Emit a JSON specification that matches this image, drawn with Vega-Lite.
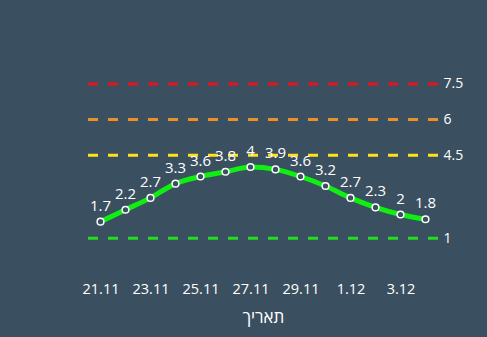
{
  "$schema": "https://vega.github.io/schema/vega-lite/v6.json",
  "autosize": "none",
  "width": 350,
  "height": 190,
  "padding": {"left": 88, "top": 72, "right": 49, "bottom": 75},
  "background": "#3a4f60",
  "config": {
    "view": {"stroke": null},
    "font": "Open Sans",
    "axis": {"grid": false, "domain": false, "ticks": false}
  },
  "datasets": {
    "main": [
      {"date": "21.11", "value": 1.7},
      {"date": "22.11", "value": 2.2},
      {"date": "23.11", "value": 2.7},
      {"date": "24.11", "value": 3.3},
      {"date": "25.11", "value": 3.6},
      {"date": "26.11", "value": 3.8},
      {"date": "27.11", "value": 4},
      {"date": "28.11", "value": 3.9},
      {"date": "29.11", "value": 3.6},
      {"date": "30.11", "value": 3.2},
      {"date": "1.12", "value": 2.7},
      {"date": "2.12", "value": 2.3},
      {"date": "3.12", "value": 2},
      {"date": "4.12", "value": 1.8}
    ],
    "thresholds": [
      {"level": 1, "color": "#22dd22"},
      {"level": 4.5, "color": "#ffe21a"},
      {"level": 6, "color": "#eb9128"},
      {"level": 7.5, "color": "#e3141c"}
    ]
  },
  "layer": [
    {
      "data": {"name": "thresholds"},
      "mark": {"type": "rule", "strokeWidth": 3, "strokeDash": [10, 10]},
      "encoding": {
        "y": {
          "field": "level",
          "type": "quantitative",
          "scale": {"domain": [0, 8]},
          "axis": {
            "orient": "right",
            "values": [1, 4.5, 6, 7.5],
            "format": ".2~f",
            "title": null,
            "labelColor": "#ffffff",
            "labelFontSize": 14,
            "labelFontWeight": 500,
            "labelPadding": 5
          }
        },
        "color": {"field": "color", "type": "nominal", "scale": null}
      }
    },
    {
      "data": {"name": "main"},
      "encoding": {
        "x": {
          "field": "date",
          "type": "ordinal",
          "sort": null,
          "scale": {"type": "point", "padding": 0.5},
          "axis": {
            "values": ["21.11", "23.11", "25.11", "27.11", "29.11", "1.12", "3.12"],
            "labelAngle": 0,
            "labelColor": "#ffffff",
            "labelFontSize": 14.5,
            "labelFontWeight": 500,
            "labelPadding": 20,
            "title": "תאריך",
            "titleColor": "#ffffff",
            "titleFontSize": 17,
            "titleFontWeight": "normal",
            "titlePadding": 14
          }
        },
        "y": {
          "field": "value",
          "type": "quantitative",
          "scale": {"domain": [0, 8]},
          "axis": {
            "orient": "right",
            "values": [1, 4.5, 6, 7.5],
            "format": ".2~f",
            "title": null,
            "labelColor": "#ffffff",
            "labelFontSize": 14,
            "labelFontWeight": 500,
            "labelPadding": 5
          }
        }
      },
      "layer": [
        {"mark": {"type": "line", "color": "#11ee11", "strokeWidth": 5, "interpolate": "monotone"}},
        {"mark": {"type": "point", "shape": "circle", "filled": true, "fill": "#3a4f60", "stroke": "#ffffff", "strokeWidth": 1.5, "size": 45, "opacity": 1}},
        {"mark": {"type": "text", "color": "#ffffff", "fontSize": 15, "baseline": "bottom", "dy": -8}, "encoding": {"text": {"field": "value", "type": "quantitative", "format": "~g"}}}
      ]
    }
  ]
}
